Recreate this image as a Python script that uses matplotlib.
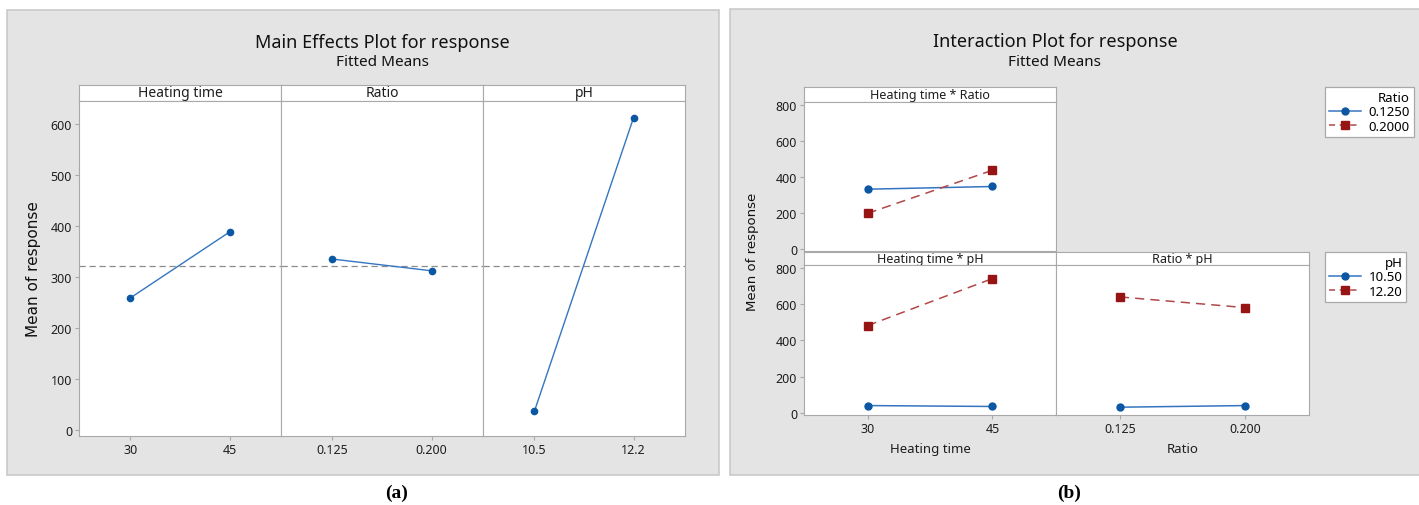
import matplotlib.pyplot as plt
from matplotlib.lines import Line2D
from matplotlib.patches import Rectangle

plt.rcParams['font.family'] = ['Noto Sans', 'DejaVu Sans']

W, H = 1419, 506

# main effects (fitted means)
factors = ['Heating time', 'Ratio', 'pH']
levels = [['30', '45'], ['0.125', '0.200'], ['10.5', '12.2']]
means = [[259, 388], [335, 312], [37, 612]]
grand_mean = 322
main_yticks = [0, 100, 200, 300, 400, 500, 600]

# interaction plots (fitted means)
ht_levels = ['30', '45']
ratio_levels = ['0.125', '0.200']
ht_ratio_0125 = [331, 346]
ht_ratio_0200 = [197, 436]
ht_ph_105 = [40, 35]
ht_ph_122 = [481, 740]
ratio_ph_105 = [31, 40]
ratio_ph_122 = [639, 580]
ratio_legend = ['0.1250', '0.2000']
ph_legend = ['10.50', '12.20']
inter_yticks = [0, 200, 400, 600, 800]

BLUE_M = '#0b57a4'
BLUE_L = '#3575c0'
RED_M = '#961414'
RED_L = '#b04848'
EDGE = '#a9a9a9'
TXT = '#1e1e1e'
GRAY_BG = '#e4e4e4'


def box(x0, y0, x1, y1):
    # pixel rectangle (from top-left) -> figure fraction
    return [x0 / W, 1 - y1 / H, (x1 - x0) / W, (y1 - y0) / H]


def strip(x0, y0, x1, y1, label, size):
    s = fig.add_axes(box(x0, y0, x1, y1))
    s.set_xticks([])
    s.set_yticks([])
    for sp in s.spines.values():
        sp.set_color(EDGE)
    s.text(0.5, 0.5, label, ha='center', va='center', fontsize=size,
           color=TXT, transform=s.transAxes)
    return s


def panel(rect, xlim, ylim, yticks, show_y):
    ax = fig.add_axes(box(*rect))
    ax.set_xlim(*xlim)
    ax.set_ylim(*ylim)
    for sp in ax.spines.values():
        sp.set_color(EDGE)
    ax.set_xticks([0, 1])
    ax.set_yticks(yticks)
    ax.tick_params(axis='both', colors=EDGE, labelcolor=TXT, labelsize=9,
                   length=3, width=0.8, pad=2)
    if not show_y:
        ax.tick_params(axis='y', left=False, labelleft=False)
    return ax


fig = plt.figure(figsize=(W / 100, H / 100), dpi=100, facecolor='white')

# gray background boxes
for x0, y0, x1, y1 in [(7, 11, 719, 476), (730, 10, 1425, 476)]:
    fig.patches.append(Rectangle((x0 / W, 1 - y1 / H), (x1 - x0) / W, (y1 - y0) / H,
                                 transform=fig.transFigure, facecolor=GRAY_BG,
                                 edgecolor='#c9c9c9', linewidth=1.2, zorder=-10))

# ---------------- (a) main effects ----------------
fig.text(382 / W, 1 - 43 / H, 'Main Effects Plot for response', ha='center', va='center',
         fontsize=13, color='#111111', fontweight='medium')
fig.text(382 / W, 1 - 63 / H, 'Fitted Means', ha='center', va='center',
         fontsize=11, color='#111111', fontweight='semibold')

edges = [79, 281, 483, 685]
for i, name in enumerate(factors):
    x0, x1 = edges[i], edges[i + 1]
    strip(x0, 86, x1, 102, name, 10)
    ax = panel((x0, 102, x1, 437), (-0.52, 1.52), (-12, 645), main_yticks, i == 0)
    ax.set_xticklabels(levels[i])
    ax.axhline(grand_mean, color='#8c8c8c', linestyle=(0, (5, 3)), linewidth=0.9)
    ax.plot([0, 1], means[i], color=BLUE_L, linewidth=1.0, marker='o',
            markersize=4.5, markerfacecolor=BLUE_M, markeredgecolor=BLUE_M)
    if i == 0:
        ax.set_ylabel('Mean of response', fontsize=11, family='DejaVu Sans',
                      color='#111111', labelpad=7)

# ---------------- (b) interaction ----------------
fig.text(1055 / W, 1 - 42 / H, 'Interaction Plot for response', ha='center', va='center',
         fontsize=13, color='#111111', fontweight='medium')
fig.text(1055 / W, 1 - 62 / H, 'Fitted Means', ha='center', va='center',
         fontsize=11, color='#111111', fontweight='semibold')


def draw_pair(ax, low, high):
    ax.plot([0, 1], low, color=BLUE_L, linewidth=1.1, marker='o', markersize=5,
            markerfacecolor=BLUE_M, markeredgecolor=BLUE_M)
    ax.plot([0, 1], high, color=RED_L, linewidth=1.1, linestyle=(0, (6, 4)),
            marker='s', markersize=5.5, markerfacecolor=RED_M, markeredgecolor=RED_M)


ylim_i = (-12, 815)
xlim_i = (-0.51, 1.51)

strip(804, 88, 1056, 103, 'Heating time * Ratio', 9)
ax1 = panel((804, 103, 1056, 252), xlim_i, ylim_i, inter_yticks, True)
ax1.tick_params(axis='x', bottom=False, labelbottom=False)
draw_pair(ax1, ht_ratio_0125, ht_ratio_0200)

strip(804, 253, 1056, 266, 'Heating time * pH', 9)
ax2 = panel((804, 266, 1056, 416), xlim_i, ylim_i, inter_yticks, True)
ax2.set_xticklabels(ht_levels)
ax2.set_xlabel('Heating time', fontsize=9.5, color=TXT, labelpad=5)
draw_pair(ax2, ht_ph_105, ht_ph_122)

strip(1056, 253, 1309, 266, 'Ratio * pH', 9)
ax3 = panel((1056, 266, 1309, 416), xlim_i, ylim_i, inter_yticks, False)
ax3.set_xticklabels(ratio_levels)
ax3.set_xlabel('Ratio', fontsize=9.5, color=TXT, labelpad=5)
draw_pair(ax3, ratio_ph_105, ratio_ph_122)

fig.text(752 / W, 1 - 252 / H, 'Mean of response', rotation=90, ha='center', va='center',
         fontsize=9.5, family='DejaVu Sans', color='#111111')

handles = [Line2D([], [], color=BLUE_L, linewidth=1.1, marker='o', markersize=5,
                  markerfacecolor=BLUE_M, markeredgecolor=BLUE_M),
           Line2D([], [], color=RED_L, linewidth=1.1, linestyle=(0, (4, 3)), marker='s',
                  markersize=5.5, markerfacecolor=RED_M, markeredgecolor=RED_M)]
for title, labels, top in [('Ratio', ratio_legend, 88), ('pH', ph_legend, 253)]:
    leg = fig.legend(handles, labels, title=title, loc='upper left',
                     bbox_to_anchor=(1325 / W, 1 - top / H), fontsize=9.5,
                     title_fontsize=9.5, alignment='right', frameon=True,
                     fancybox=False, edgecolor=EDGE, framealpha=1,
                     handlelength=2.4, handletextpad=0.6, borderpad=0.3,
                     labelspacing=0.1, borderaxespad=0)
    leg.get_frame().set_linewidth(0.9)

# panel captions
fig.text(397 / W, 1 - 493 / H, '(a)', ha='center', va='center', fontsize=14,
         fontweight='bold', family='Liberation Serif')
fig.text(1069 / W, 1 - 493 / H, '(b)', ha='center', va='center', fontsize=14,
         fontweight='bold', family='Liberation Serif')

fig.savefig('out.png', dpi=100, facecolor='white')
